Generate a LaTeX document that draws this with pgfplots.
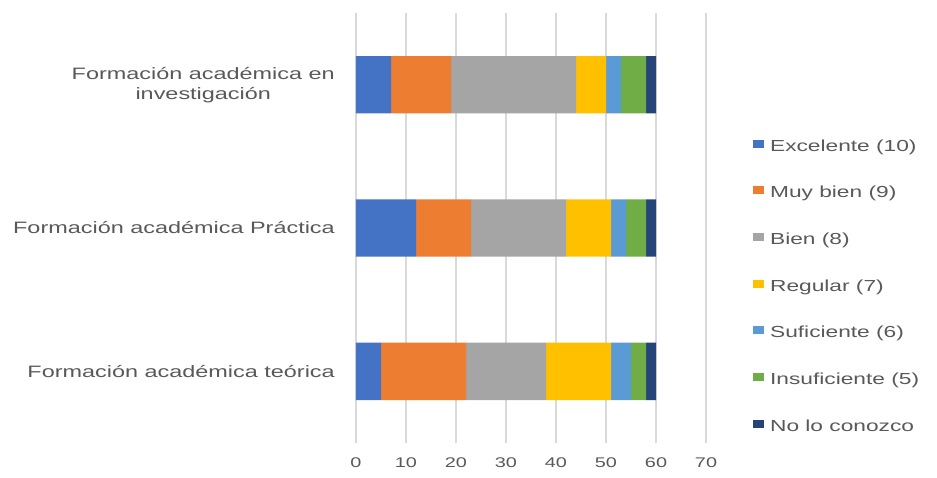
\documentclass[border=0pt]{standalone}
\usepackage{fontspec}
\setmainfont[FakeStretch=1.42]{Liberation Sans}
\usepackage{pgfplots}
\pgfplotsset{compat=1.18}

\definecolor{cExc}{HTML}{4472C4}
\definecolor{cMuy}{HTML}{ED7D31}
\definecolor{cBien}{HTML}{A5A5A5}
\definecolor{cReg}{HTML}{FFC000}
\definecolor{cSuf}{HTML}{5B9BD5}
\definecolor{cIns}{HTML}{70AD47}
\definecolor{cNo}{HTML}{264478}
\definecolor{txt}{HTML}{595959}
\definecolor{grd}{HTML}{D9D9D9}

\begin{document}
\begin{tikzpicture}
\path[use as bounding box] (0,0) rectangle (937pt,477pt);
\begin{axis}[
  at={(356pt,34pt)}, anchor=south west,
  scale only axis, width=350pt, height=430pt,
  xbar stacked, bar width=0.4,
  xmin=0, xmax=70, ymin=0.5, ymax=3.5,
  xtick={0,10,...,70},
  ytick={1,2,3},
  yticklabels={Formación académica teórica, Formación académica Práctica, {Formación académica en\\investigación}},
  axis line style={draw=none},
  major tick length=0pt,
  xmajorgrids,
  major grid style={draw=grd, line width=1.3pt},
  /pgf/number format/assume math mode=true,
  tick label style={text=txt},
  xticklabel style={font=\fontsize{14}{16}\selectfont, inner sep=0pt, anchor=north, yshift=-15pt},
  yticklabel style={font=\fontsize{16.5}{20}\selectfont, align=center, inner sep=0pt, anchor=east, xshift=-21pt},
  legend cell align=left,
  legend style={
    draw=none, fill=none, inner sep=0pt,
    at={(1.134,0.706)}, anchor=north west,
    row sep=35.2pt, column sep=6pt,
    font=\fontsize{16}{18}\selectfont, text=txt,
    nodes={inner sep=0pt, text height=11.5pt, text depth=0pt},
  },
  legend image code/.code={\fill[#1, draw=none] (0pt,-2.25pt) rectangle (11pt,5.75pt);},
]
\addplot+[fill=cExc, draw=none] coordinates {(5,1) (12,2) (7,3)};
\addplot+[fill=cMuy, draw=none] coordinates {(17,1) (11,2) (12,3)};
\addplot+[fill=cBien, draw=none] coordinates {(16,1) (19,2) (25,3)};
\addplot+[fill=cReg, draw=none] coordinates {(13,1) (9,2) (6,3)};
\addplot+[fill=cSuf, draw=none] coordinates {(4,1) (3,2) (3,3)};
\addplot+[fill=cIns, draw=none] coordinates {(3,1) (4,2) (5,3)};
\addplot+[fill=cNo, draw=none] coordinates {(2,1) (2,2) (2,3)};
\legend{Excelente (10), Muy bien (9), Bien (8), Regular (7), Suficiente (6), Insuficiente (5), No lo conozco}
\end{axis}
\end{tikzpicture}
\end{document}
